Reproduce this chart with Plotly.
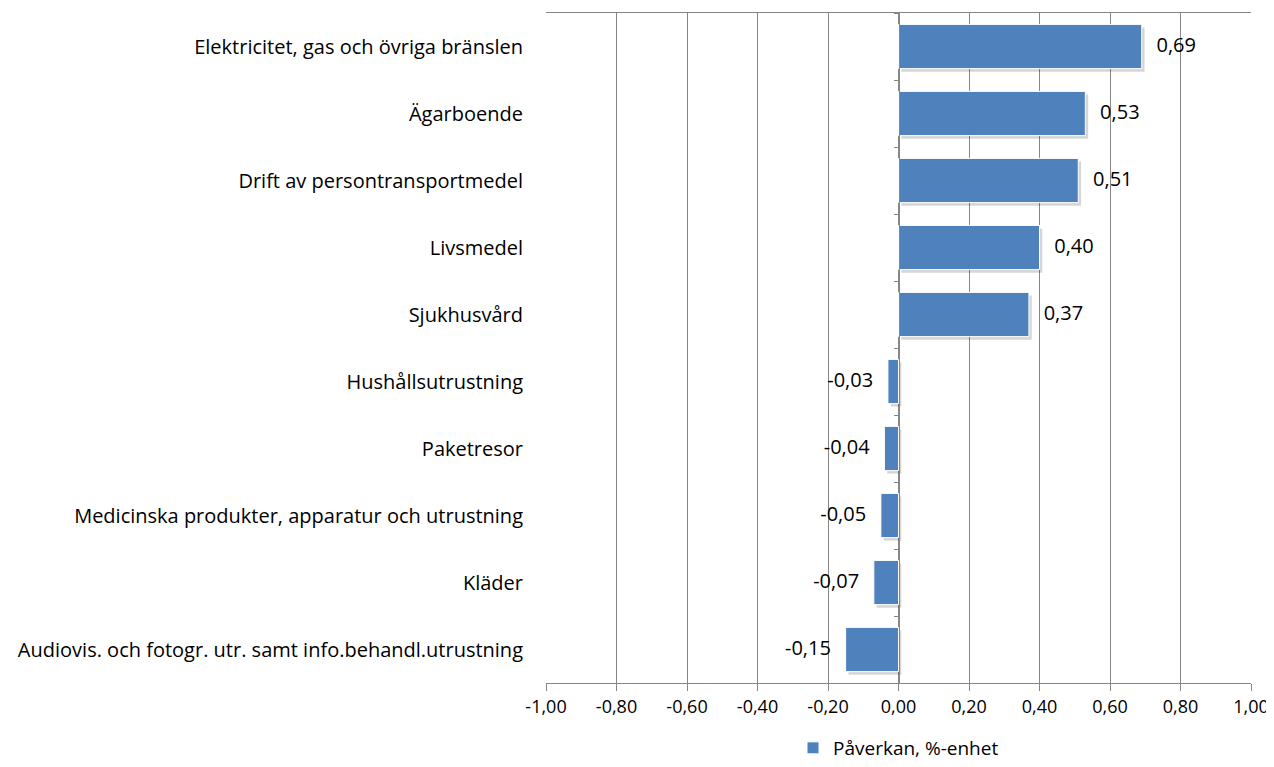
import plotly.graph_objects as go

categories = [
    "Elektricitet, gas och övriga bränslen",
    "Ägarboende",
    "Drift av persontransportmedel",
    "Livsmedel",
    "Sjukhusvård",
    "Hushållsutrustning",
    "Paketresor",
    "Medicinska produkter, apparatur och utrustning",
    "Kläder",
    "Audiovis. och fotogr. utr. samt info.behandl.utrustning",
]
values = [0.69, 0.53, 0.51, 0.40, 0.37, -0.03, -0.04, -0.05, -0.07, -0.15]
series_name = "Påverkan, %-enhet"
x_ticks = [-1.0, -0.8, -0.6, -0.4, -0.2, 0.0, 0.2, 0.4, 0.6, 0.8, 1.0]


def fmt(v):
    return f"{v:.2f}".replace(".", ",")


x_ticktext = [fmt(v) for v in x_ticks]
value_labels = [fmt(v) for v in values]

FONT = "Open Sans"
FS = 20
BAR_W = 0.66
n = len(categories)

fig = go.Figure()

# subtle drop shadow
fig.add_trace(go.Bar(
    y=categories, x=values, orientation="h",
    base=0.008, width=BAR_W, offset=-BAR_W / 2 + 0.045,
    marker=dict(color="rgba(0,0,0,0.16)", line=dict(width=0)),
    showlegend=False, hoverinfo="skip",
))

fig.add_trace(go.Bar(
    y=categories, x=values, orientation="h", name=series_name,
    width=BAR_W, offset=-BAR_W / 2,
    marker=dict(color="#4F81BD", line=dict(color="white", width=1)),
    hoverinfo="x+y",
))

# data labels
fig.add_trace(go.Scatter(
    y=categories, x=values, mode="markers+text",
    text=value_labels,
    textposition=["middle right" if v >= 0 else "middle left" for v in values],
    textfont=dict(family=FONT, size=FS, color="black"),
    marker=dict(size=22, opacity=0),
    showlegend=False, hoverinfo="skip", cliponaxis=False,
))

# invisible trace for the central category axis with ticks
fig.add_trace(go.Scatter(
    y=categories, x=[0] * n, yaxis="y2", mode="markers",
    marker=dict(opacity=0, size=1), showlegend=False, hoverinfo="skip",
))

fig.update_layout(
    width=1266, height=759,
    paper_bgcolor="white", plot_bgcolor="white",
    margin=dict(l=538, r=23, t=5, b=84, autoexpand=False),
    barmode="overlay",
    font=dict(family=FONT, size=FS, color="black"),
    showlegend=True,
    legend=dict(orientation="h", x=0.5, xanchor="center", y=-0.097, yanchor="middle",
                font=dict(family=FONT, size=FS - 1, color="black")),
    xaxis=dict(
        range=[-1, 1], tickvals=x_ticks, ticktext=x_ticktext, automargin=False,
        showgrid=True, gridcolor="#868686", gridwidth=1,
        zeroline=False,
        showline=True, linecolor="#868686", linewidth=1, mirror=True,
        ticks="outside", ticklen=7, tickcolor="#868686",
        tickfont=dict(family=FONT, size=FS - 2, color="black"),
    ),
    yaxis=dict(
        range=[n - 0.5, -0.5], showgrid=False, zeroline=False, automargin=False,
        showline=False, ticks="", ticklabelstandoff=22,
        tickfont=dict(family=FONT, size=FS, color="black"),
    ),
    yaxis2=dict(
        overlaying="y", matches="y", anchor="free", position=0.5, side="left",
        showticklabels=False, showgrid=False, zeroline=False, automargin=False,
        showline=True, linecolor="#868686", linewidth=1,
        ticks="outside", ticklen=5, tickcolor="#868686", tickson="boundaries",
    ),
)

fig.write_html("out.html")
